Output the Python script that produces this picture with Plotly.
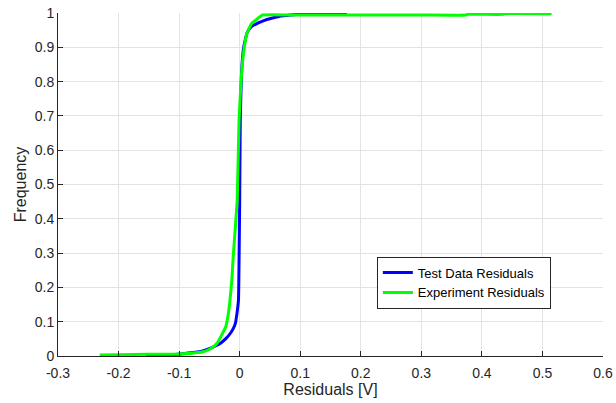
import plotly.graph_objects as go

test_x = [-0.155, -0.12, -0.098, -0.064, -0.045, -0.031, -0.022, -0.015, -0.010, -0.007,
          -0.004, -0.002, -0.001, 0.000, 0.001, 0.003, 0.006, 0.009, 0.012, 0.018,
          0.029, 0.040, 0.051, 0.065, 0.084, 0.105, 0.133, 0.177]
test_y = [0.000, 0.002, 0.006, 0.013, 0.025, 0.038, 0.052, 0.067, 0.082, 0.096,
          0.130, 0.163, 0.280, 0.450, 0.688, 0.820, 0.892, 0.920, 0.941, 0.958,
          0.970, 0.978, 0.984, 0.990, 0.994, 0.997, 1.000, 1.000]

# Experiment residuals
exp_x = [-0.231, -0.200, -0.150, -0.098, -0.059, -0.045, -0.037, -0.030, -0.023, -0.019,
         -0.016, -0.013, -0.011, -0.007, -0.004, -0.001, 0.003, 0.007, 0.012, 0.020,
         0.030, 0.037, 0.100, 0.200, 0.300, 0.374, 0.376, 0.435, 0.437, 0.515]
exp_y = [0.003, 0.004, 0.005, 0.006, 0.013, 0.025, 0.038, 0.060, 0.085, 0.120,
         0.163, 0.220, 0.280, 0.380, 0.455, 0.688, 0.820, 0.892, 0.941, 0.970,
         0.984, 0.994, 0.994, 0.994, 0.994, 0.994, 0.996, 0.996, 0.998, 0.998]

x_ticks = [-0.3, -0.2, -0.1, 0, 0.1, 0.2, 0.3, 0.4, 0.5, 0.6]
x_tick_text = ["-0.3", "-0.2", "-0.1", "0", "0.1", "0.2", "0.3", "0.4", "0.5", "0.6"]
y_ticks = [0, 0.1, 0.2, 0.3, 0.4, 0.5, 0.6, 0.7, 0.8, 0.9, 1]
y_tick_text = ["0", "0.1", "0.2", "0.3", "0.4", "0.5", "0.6", "0.7", "0.8", "0.9", "1"]

FONT = "Liberation Sans, Arial, Helvetica, sans-serif"
DARK = "#262626"
GRID = "#e3e3e3"

fig = go.Figure()
fig.add_trace(go.Scatter(x=test_x, y=test_y, mode="lines", name="Test Data Residuals",
                         line=dict(color="#0000ff", width=3, shape="spline", smoothing=0.4)))
fig.add_trace(go.Scatter(x=exp_x, y=exp_y, mode="lines", name="Experiment Residuals",
                         line=dict(color="#00ff00", width=3, shape="spline", smoothing=0.4)))

fig.update_layout(
    width=616, height=403,
    margin=dict(l=58, r=13, t=13, b=47),
    paper_bgcolor="white", plot_bgcolor="white",
    font=dict(family=FONT, color=DARK, size=14),
    showlegend=True,
    legend=dict(x=0.585, y=0.29, xanchor="left", yanchor="top",
                bgcolor="white", bordercolor=DARK, borderwidth=1,
                font=dict(size=13, color="#000000", family=FONT),
                tracegroupgap=0, itemwidth=30),
    xaxis=dict(range=[-0.3, 0.6], tickvals=x_ticks, ticktext=x_tick_text,
               showgrid=True, gridcolor=GRID, gridwidth=1, zeroline=False,
               showline=True, linecolor=DARK, linewidth=1, automargin=False,
               ticks="inside", ticklen=5, tickcolor=DARK, ticklabelstandoff=4,
               title=dict(text="Residuals [V]", font=dict(size=16, color=DARK), standoff=2),
               tickfont=dict(size=14, color=DARK)),
    yaxis=dict(range=[0, 1], tickvals=y_ticks, ticktext=y_tick_text,
               showgrid=True, gridcolor=GRID, gridwidth=1, zeroline=False,
               showline=True, linecolor=DARK, linewidth=1, automargin=False,
               ticks="inside", ticklen=5, tickcolor=DARK,
               title=dict(text="Frequency", font=dict(size=16, color=DARK), standoff=4),
               tickfont=dict(size=14, color=DARK)),
)

fig.write_html("out.html", config={"displayModeBar": False},
               post_script="document.body.style.margin='0';")
